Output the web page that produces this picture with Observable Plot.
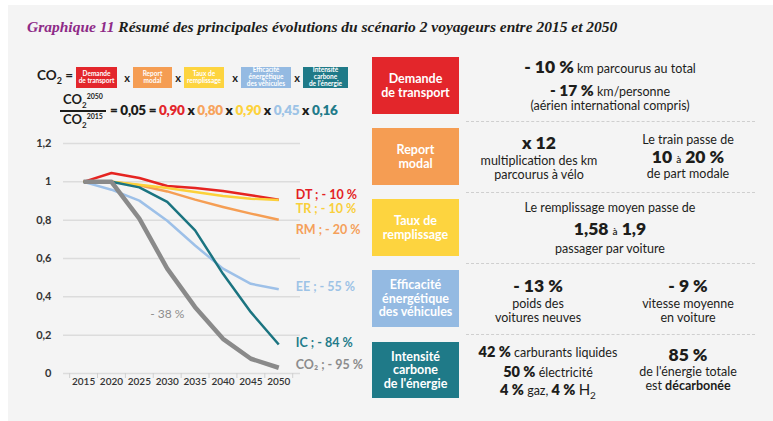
<!DOCTYPE html>
<html>
<head>
<meta charset="utf-8">
<script src="https://cdn.jsdelivr.net/npm/d3@7"></script>
<script src="https://cdn.jsdelivr.net/npm/@observablehq/plot@0.6"></script>
<style>
  html, body { margin: 0; padding: 0; background: #ffffff; }
  body { width: 773px; height: 421px; position: relative; overflow: hidden; font-family: Lato, "Open Sans", sans-serif; color: #1d1d1b; }
  #bg { position: absolute; left: 8px; top: 5px; width: 765px; height: 416px; background: #f4f4f4; }
  .t { position: absolute; transform: translate(-50%, -50%); white-space: nowrap; line-height: 1; }
  .l { position: absolute; transform: translate(0, -50%); white-space: nowrap; line-height: 1; }
  #title { position: absolute; left: 27px; top: 27px; transform: translate(0,-50%); font-family: "Liberation Serif", "DejaVu Serif", serif; font-style: italic; font-size: 15.5px; font-weight: 600; color: #1d1d1b; white-space: nowrap; line-height: 1; }
  #title .g { color: #8e2a87; font-weight: 700; }
  .fbox { position: absolute; top: 67px; height: 21px; display: flex; align-items: center; justify-content: center; text-align: center; color: #fff; font-size: 6.5px; line-height: 6.8px; font-weight: 700; }
  .fx { position: absolute; top: 77px; transform: translate(-50%,-50%); font-weight: 700; font-size: 11px; line-height: 1; }
  .box { position: absolute; left: 372px; width: 87px; height: 57px; display: flex; align-items: center; justify-content: center; text-align: center; color: #fff; font-size: 12.5px; line-height: 13.5px; font-weight: 700; }
  .sep { position: absolute; left: 466px; width: 289px; height: 0; border-top: 1.5px dashed #cfcfcf; }
  .rt { font-size: 12.5px; }
  .b17 { font-weight: 800; font-size: 17.5px; }
  .b15 { font-weight: 800; font-size: 15.5px; }
  .b14 { font-weight: 800; font-size: 14.5px; }
  #plot { position: absolute; left: 0; top: 130px; }
</style>
</head>
<body>
<div id="bg"></div>
<div id="title"><span class="g">Graphique 11</span> Résumé des principales évolutions du scénario 2 voyageurs entre 2015 et 2050</div>

<!-- formula line 1 -->
<div class="l" style="left:37px; top:77px; font-weight:700; font-size:13.5px;">CO<sub style="font-size:9px;">2</sub> =</div>
<div class="fbox" style="left:76px; width:41px; background:#e3262b;">Demande<br>de transport</div>
<div class="fx" style="left:127px;">x</div>
<div class="fbox" style="left:133px; width:39px; background:#f59d53;">Report<br>modal</div>
<div class="fx" style="left:178px;">x</div>
<div class="fbox" style="left:184px; width:40px; background:#fdd43f;">Taux de<br>remplissage</div>
<div class="fx" style="left:235px;">x</div>
<div class="fbox" style="left:241px; width:50px; background:#94bae2;">Efficacité<br>énergétique<br>des véhicules</div>
<div class="fx" style="left:297px;">x</div>
<div class="fbox" style="left:303px; width:45px; background:#1f7a88;">Intensité<br>carbone<br>de l'énergie</div>

<!-- formula line 2 -->
<div class="t" style="left:83px; top:101px; font-weight:700; font-size:13px;">CO<sub style="font-size:8px;">2</sub><sup style="font-size:7px;">2050</sup></div>
<div style="position:absolute; left:60px; top:110px; width:46px; height:1.5px; background:#1d1d1b;"></div>
<div class="t" style="left:83px; top:121px; font-weight:700; font-size:13px;">CO<sub style="font-size:8px;">2</sub><sup style="font-size:7px;">2015</sup></div>
<div class="l" style="left:110px; top:111px; font-weight:800; font-size:13.5px; letter-spacing:-0.3px;">= 0,05 = <span style="color:#e3262b">0,90</span> x <span style="color:#f7a35c">0,80</span> x <span style="color:#fdd23c">0,90</span> x <span style="color:#9dc3e6">0,45</span> x <span style="color:#1f7b8a">0,16</span></div>

<!-- right panel boxes -->
<div class="box" style="top:57px; background:#e3262b;">Demande<br>de transport</div>
<div class="box" style="top:128px; background:#f59d53;">Report<br>modal</div>
<div class="box" style="top:199px; background:#fdd43f;">Taux de<br>remplissage</div>
<div class="box" style="top:270px; background:#94bae2;">Efficacité<br>énergétique<br>des véhicules</div>
<div class="box" style="top:342px; height:56px; background:#1f7a88;">Intensité<br>carbone<br>de l'énergie</div>

<div class="sep" style="top:121px;"></div>
<div class="sep" style="top:192px;"></div>
<div class="sep" style="top:263px;"></div>
<div class="sep" style="top:334px;"></div>

<!-- box 1 -->
<div class="t rt" style="left:610px; top:67px;"><span class="b17">- 10 %</span> km parcourus au total</div>
<div class="t rt" style="left:610px; top:91px;"><span class="b15">- 17 %</span> km/personne</div>
<div class="t rt" style="left:610px; top:106px;">(aérien international compris)</div>
<!-- box 2 -->
<div class="t b17" style="left:539px; top:143px;">x 12</div>
<div class="t rt" style="left:539px; top:161px;">multiplication des km</div>
<div class="t rt" style="left:539px; top:175px;">parcourus à vélo</div>
<div class="t rt" style="left:688px; top:140px;">Le train passe de</div>
<div class="t b17" style="left:688px; top:157px;">10 <span style="font-size:10px; font-weight:600;">à</span> 20 %</div>
<div class="t rt" style="left:688px; top:174px;">de part modale</div>
<!-- box 3 -->
<div class="t rt" style="left:610px; top:208px;">Le remplissage moyen passe de</div>
<div class="t b17" style="left:610px; top:229px;">1,58 <span style="font-size:10px; font-weight:600;">à</span> 1,9</div>
<div class="t rt" style="left:610px; top:249px;">passager par voiture</div>
<!-- box 4 -->
<div class="t b17" style="left:538px; top:286px;">- 13 %</div>
<div class="t rt" style="left:538px; top:304px;">poids des</div>
<div class="t rt" style="left:538px; top:318px;">voitures neuves</div>
<div class="t b17" style="left:688px; top:286px;">- 9 %</div>
<div class="t rt" style="left:688px; top:304px;">vitesse moyenne</div>
<div class="t rt" style="left:688px; top:318px;">en voiture</div>
<!-- box 5 -->
<div class="t rt" style="left:548px; top:352px;"><span class="b14">42 %</span> carburants liquides</div>
<div class="t rt" style="left:548px; top:372px;"><span class="b14">50 %</span> électricité</div>
<div class="t rt" style="left:548px; top:391px;"><span class="b14">4 %</span> gaz, <span class="b14">4 %</span> <span style="font-size:15px;">H<sub style="font-size:10px;">2</sub></span></div>
<div class="t b17" style="left:688px; top:355px;">85 %</div>
<div class="t rt" style="left:688px; top:372px;">de l'énergie totale</div>
<div class="t rt" style="left:688px; top:386px;">est <b>décarbonée</b></div>

<div id="plot"></div>

<script>
// ---- data ----
const years = [2015, 2020, 2025, 2030, 2035, 2040, 2045, 2050];
const DT  = [1, 1.046, 1.020, 0.978, 0.968, 0.952, 0.930, 0.907];
const TR  = [1, 1.000, 0.985, 0.968, 0.947, 0.926, 0.912, 0.905];
const RM  = [1, 1.000, 0.982, 0.950, 0.907, 0.869, 0.834, 0.802];
const EE  = [1, 0.959, 0.902, 0.797, 0.668, 0.547, 0.468, 0.440];
const IC  = [1, 1.000, 0.971, 0.895, 0.747, 0.520, 0.320, 0.151];
const CO2 = [1, 1.000, 0.808, 0.547, 0.346, 0.181, 0.077, 0.030];
const seriesKeys   = ["EE", "RM", "DT", "TR", "IC", "CO2"];
const seriesValues = { DT, TR, RM, EE, IC, CO2 };
const endLabels = {
  DT: "DT ; - 10 %", TR: "TR ; - 10 %", RM: "RM ; - 20 %",
  EE: "EE ; - 55 %", IC: "IC ; - 84 %", CO2: "CO₂ ; - 95 %"
};
const yTicks = [0, 0.2, 0.4, 0.6, 0.8, 1, 1.2];
const annotation = [{ year: 2030, value: 0.31, text: "- 38 %" }];

// ---- styles ----
const colors = { DT: "#e52421", TR: "#fcd13a", RM: "#f59e54", EE: "#9dc0e8", IC: "#1b7480", CO2: "#8a8a8a" };
const labelColors = { DT: "#e31e24", TR: "#f9cf3b", RM: "#f5a05a", EE: "#9dc3e6", IC: "#1f7b8a", CO2: "#8c8c8c" };
const widths = { DT: 2.5, TR: 2.5, RM: 2.5, EE: 2.5, IC: 2.5, CO2: 4.5 };
const labelDy = { DT: -5, TR: 9, RM: 10, EE: -2, IC: -2, CO2: -3 };

const rows = seriesKeys.flatMap(k => years.map((y, i) => ({ series: k, year: y, value: seriesValues[k][i] })));
const ends = seriesKeys.map(k => ({ series: k, year: years[years.length - 1], value: seriesValues[k][years.length - 1], text: endLabels[k] }));
const boundaries = years.map(y => y - 2.5).concat([years[years.length - 1] + 2.5]);
const fmt = d => String(+d.toFixed(1)).replace(".", ",");

const plot = Plot.plot({
  width: 370, height: 270,
  marginTop: 13, marginBottom: 27, marginLeft: 63, marginRight: 70,
  style: { background: "transparent", overflow: "visible", fontFamily: "Lato, sans-serif" },
  x: { domain: [2011.4, 2053.9] },
  y: { domain: [0, 1.2] },
  marks: [
    Plot.gridY(yTicks, { stroke: "#dcdcdc", strokeOpacity: 1, strokeWidth: 1.5 }),
    Plot.axisY(yTicks, { tickSize: 0, tickPadding: 12, tickFormat: fmt, fontSize: 11, fontWeight: 700, fill: "#333", label: null }),
    Plot.axisX(boundaries, { tickSize: 5, stroke: "#d0d0d0", strokeWidth: 1, tickFormat: () => "", label: null }),
    Plot.axisX(years, { tickSize: 0, tickPadding: 4, tickFormat: d => String(d), fontSize: 10, fontWeight: 600, fill: "#333", label: null }),
    ...seriesKeys.map(k => Plot.line(rows.filter(r => r.series === k), {
      x: "year", y: "value", stroke: colors[k], strokeWidth: widths[k], strokeLinejoin: "round", strokeLinecap: "butt"
    })),
    ...ends.map(e => Plot.text([e], {
      x: "year", y: "value", text: "text", textAnchor: "start", dx: 17, dy: labelDy[e.series],
      fill: labelColors[e.series], fontSize: 12.5, fontWeight: 700
    })),
    Plot.text(annotation, { x: "year", y: "value", text: "text", fill: "#8c8c8c", fontSize: 12 })
  ]
});
document.getElementById("plot").appendChild(plot);
</script>
</body>
</html>
